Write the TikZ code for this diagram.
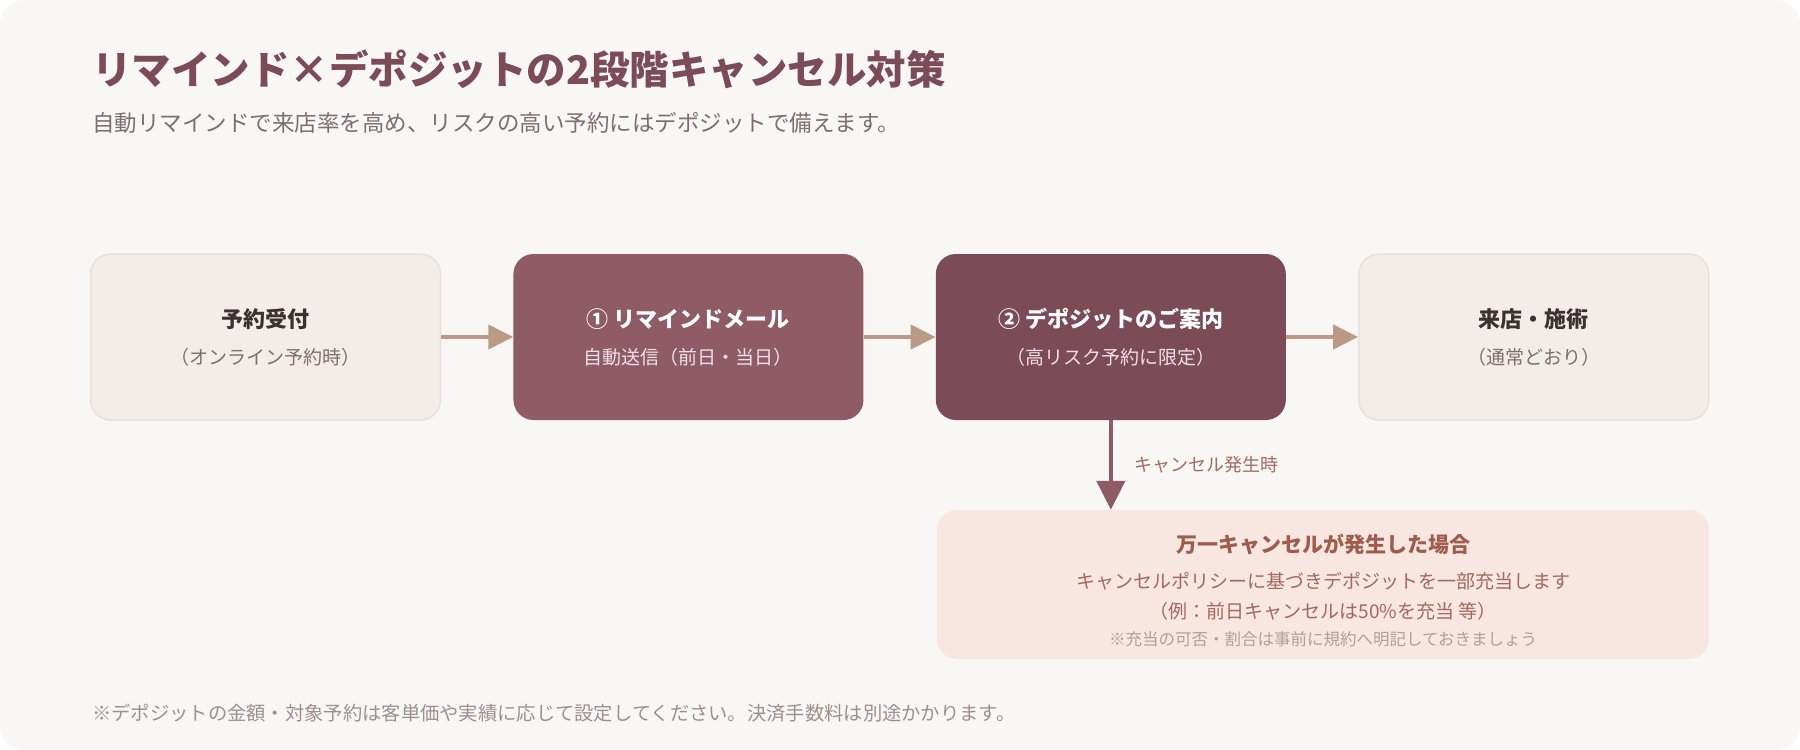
\documentclass[tikz,border=0pt]{standalone}
\usepackage{fontspec}
\setmainfont{Noto Sans CJK JP}
\usetikzlibrary{positioning,arrows.meta}

\definecolor{pagebg}{HTML}{F9F7F5}
\definecolor{cardbg}{HTML}{F2EDE9}
\definecolor{cardline}{HTML}{E9E1DB}
\definecolor{rose}{HTML}{8E5B67}
\definecolor{plum}{HTML}{7B4B57}
\definecolor{arrowtan}{HTML}{BA9A85}
\definecolor{warnbg}{HTML}{F8E6E0}
\definecolor{warnhead}{HTML}{9E5C4D}
\definecolor{warntext}{HTML}{A2695F}
\definecolor{warnnote}{HTML}{ADA09A}
\definecolor{darktext}{HTML}{3A3232}
\definecolor{greytext}{HTML}{7A706C}
\definecolor{roselight}{HTML}{F1E1E5}
\definecolor{foottext}{HTML}{9A918C}

\tikzset{
    card/.style={rounded corners=20pt, minimum width=350pt, minimum height=166pt, inner sep=0pt},
    lightcard/.style={card, fill=cardbg, draw=cardline, line width=1.5pt},
    boxhead/.style={inner sep=0pt, font=\fontsize{22}{26}\selectfont\bfseries},
    boxsub/.style={inner sep=0pt, font=\fontsize{19}{22}\selectfont},
    flow/.style={-{Triangle[length=25pt,width=24pt]}, line width=4.5pt, draw=arrowtan},
    drop/.style={-{Triangle[length=29pt,width=28pt]}, line width=4.5pt, draw=rose},
}

\begin{document}
\begin{tikzpicture}[x=1pt,y=-1pt]
    \useasboundingbox (0,0) rectangle (1800,750);
    \fill[white] (0,0) rectangle (1800,750);
    \fill[pagebg, rounded corners=24pt] (0,0) rectangle (1800,750);

    % heading
    \node[anchor=west, inner sep=0pt, text=plum, font=\fontsize{39.5}{47}\selectfont\bfseries] (title) at (92,69) {リマインド×デポジットの2段階キャンセル対策};
    \node[anchor=west, inner sep=0pt, text=greytext, font=\fontsize{22.5}{27}\selectfont] (lead) at (92,123) {自動リマインドで来店率を高め、リスクの高い予約にはデポジットで備えます。};

    % flow boxes
    \node[lightcard] (b1) at (265.5,337) {};
    \node[card, fill=rose, right=72pt of b1] (b2) {};
    \node[card, fill=plum, right=72pt of b2] (b3) {};
    \node[lightcard, right=72pt of b3] (b4) {};

    \node[boxhead, text=darktext] (b1h) at ([yshift=18pt]b1.center) {予約受付};
    \node[boxsub, text=greytext] (b1s) at ([yshift=-20pt]b1.center) {（オンライン予約時）};
    \node[boxhead, text=white] (b2h) at ([yshift=18pt]b2.center) {① リマインドメール};
    \node[boxsub, text=roselight] (b2s) at ([yshift=-20pt]b2.center) {自動送信（前日・当日）};
    \node[boxhead, text=white] (b3h) at ([yshift=18pt]b3.center) {② デポジットのご案内};
    \node[boxsub, text=roselight] (b3s) at ([yshift=-20pt]b3.center) {（高リスク予約に限定）};
    \node[boxhead, text=darktext] (b4h) at ([yshift=18pt]b4.center) {来店・施術};
    \node[boxsub, text=greytext] (b4s) at ([yshift=-20pt]b4.center) {（通常どおり）};

    \draw[flow] (b1) -- (b2);
    \draw[flow] (b2) -- (b3);
    \draw[flow] (b3) -- (b4);

    % cancellation case
    \node[rounded corners=20pt, fill=warnbg, inner sep=0pt, minimum width=772pt, minimum height=149pt] (warn) at (1323,584.5) {};
    \node[inner sep=0pt, text=warnhead, font=\fontsize{21}{25}\selectfont\bfseries] (wh) at (1323,544) {万一キャンセルが発生した場合};
    \node[inner sep=0pt, text=warntext, font=\fontsize{19}{23}\selectfont] (w1) at (1323,581) {キャンセルポリシーに基づきデポジットを一部充当します};
    \node[inner sep=0pt, text=warntext, font=\fontsize{19}{23}\selectfont] (w2) at (1323,611) {（例：前日キャンセルは50\%を充当 等）};
    \node[inner sep=0pt, text=warnnote, font=\fontsize{16.5}{20}\selectfont] (w3) at (1323,639) {※充当の可否・割合は事前に規約へ明記しておきましょう};

    \draw[drop] (b3.south) -- (b3.south |- warn.north)
        node[midway, right=21pt, inner sep=0pt, text=warntext, font=\fontsize{18}{21}\selectfont] (why) {キャンセル発生時};

    % footnote
    \node[anchor=west, inner sep=0pt, text=foottext, font=\fontsize{19.3}{23}\selectfont] (foot) at (92,713) {※デポジットの金額・対象予約は客単価や実績に応じて設定してください。決済手数料は別途かかります。};
\end{tikzpicture}
\end{document}
